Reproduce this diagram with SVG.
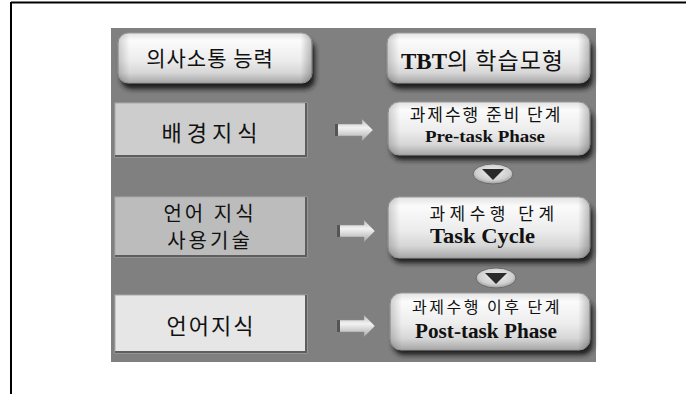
<svg xmlns="http://www.w3.org/2000/svg" width="686" height="394" viewBox="0 0 686 394">
<style>
.kr{font-family:"Noto Sans CJK KR","Noto Sans",sans-serif;fill:#111;text-anchor:middle}
.en{font-family:"Liberation Serif","Times New Roman",serif;font-weight:bold;fill:#111;text-anchor:middle}
.btn{fill:url(#gBtn);stroke:#9a9a9a;stroke-width:1}
.shadow{fill:#1a1a1a;filter:url(#blur)}
.lbox{stroke:#a8a8a8;stroke-width:1}
.edge{stroke:#5e5e5e;stroke-width:2;fill:none}
</style>
<defs>
<linearGradient id="gBtn" x1="0" y1="0" x2="0" y2="1">
<stop offset="0" stop-color="#e2e2e2"/>
<stop offset="0.15" stop-color="#fbfbfb"/>
<stop offset="0.55" stop-color="#ececec"/>
<stop offset="0.8" stop-color="#d6d6d6"/>
<stop offset="1" stop-color="#a6a6a6"/>
</linearGradient>
<linearGradient id="gSide" x1="0" y1="0" x2="1" y2="0">
<stop offset="0" stop-color="#000" stop-opacity="0.18"/>
<stop offset="0.06" stop-color="#000" stop-opacity="0"/>
<stop offset="0.94" stop-color="#000" stop-opacity="0"/>
<stop offset="1" stop-color="#000" stop-opacity="0.25"/>
</linearGradient>
<linearGradient id="gArrow" x1="0" y1="0" x2="0" y2="1">
<stop offset="0" stop-color="#bdbdbd"/>
<stop offset="0.4" stop-color="#f2f2f2"/>
<stop offset="1" stop-color="#a9a9a9"/>
</linearGradient>
<radialGradient id="gOval" cx="0.5" cy="0.4" r="0.6">
<stop offset="0" stop-color="#f0f0f0"/>
<stop offset="0.7" stop-color="#cfcfcf"/>
<stop offset="1" stop-color="#9a9a9a"/>
</radialGradient>
<filter id="blur" x="-10%" y="-20%" width="120%" height="150%"><feGaussianBlur stdDeviation="2.5"/></filter>
</defs>

<!-- frame -->
<line x1="11" y1="2.5" x2="686" y2="2.5" stroke="#000" stroke-width="2"/>
<line x1="11" y1="2" x2="11" y2="394" stroke="#000" stroke-width="2"/>

<!-- panel -->
<rect x="111" y="28" width="485" height="334" fill="#808080"/>

<g id="node-communication">
<rect class="shadow" x="121" y="40" width="194" height="49" rx="10"/>
<rect class="btn" x="118" y="33" width="194" height="50" rx="10"/>
<rect x="118" y="33" width="194" height="50" rx="10" fill="url(#gSide)"/>
<text class="kr" x="210" y="65.5" font-size="21" letter-spacing="1">의사소통 능력</text>
</g>

<g id="node-tbt">
<rect class="shadow" x="390" y="40" width="203" height="49" rx="10"/>
<rect class="btn" x="387" y="33" width="203" height="50" rx="10"/>
<rect x="387" y="33" width="203" height="50" rx="10" fill="url(#gSide)"/>
<text x="482.5" y="69" font-size="23" text-anchor="middle"><tspan class="en">TBT</tspan><tspan class="kr" letter-spacing="1">의 학습모형</tspan></text>
</g>

<g id="node-background">
<rect class="lbox" x="115" y="103" width="192" height="54" fill="#cdcdcd"/>
<polyline class="edge" points="306,103 306,156 115,156"/>
<text class="kr" x="212" y="141" font-size="22" letter-spacing="5">배경지식</text>
</g>

<g id="node-language-skill">
<rect class="lbox" x="115" y="197" width="192" height="60" fill="#bcbcbc"/>
<polyline class="edge" points="306,197 306,256 115,256"/>
<text class="kr" x="210" y="221" font-size="20" letter-spacing="3">언어 지식</text>
<text class="kr" x="210" y="248" font-size="20" letter-spacing="3">사용기술</text>
</g>

<g id="node-language-knowledge">
<rect class="lbox" x="115" y="295" width="192" height="58" fill="#e6e6e6"/>
<polyline class="edge" points="306,295 306,352 115,352"/>
<text class="kr" x="211" y="333.5" font-size="22" letter-spacing="2">언어지식</text>
</g>

<g id="node-pretask">
<rect class="shadow" x="391" y="109" width="202" height="51" rx="11"/>
<rect class="btn" x="388" y="102" width="202" height="53" rx="11"/>
<rect x="388" y="102" width="202" height="53" rx="11" fill="url(#gSide)"/>
<text class="kr" x="486" y="121" font-size="17" letter-spacing="2">과제수행 준비 단계</text>
<text class="en" x="485" y="142" font-size="16" textLength="120" lengthAdjust="spacingAndGlyphs">Pre-task Phase</text>
</g>

<g id="node-taskcycle">
<rect class="shadow" x="391" y="204" width="202" height="59" rx="11"/>
<rect class="btn" x="388" y="197" width="202" height="61" rx="11"/>
<rect x="388" y="197" width="202" height="61" rx="11" fill="url(#gSide)"/>
<text class="kr" x="494" y="220" font-size="17" letter-spacing="4.5">과제수행 단계</text>
<text class="en" x="482.5" y="243" font-size="20" textLength="105" lengthAdjust="spacingAndGlyphs">Task Cycle</text>
</g>

<g id="node-posttask">
<rect class="shadow" x="393" y="300" width="200" height="55" rx="11"/>
<rect class="btn" x="390" y="293" width="200" height="57" rx="11"/>
<rect x="390" y="293" width="200" height="57" rx="11" fill="url(#gSide)"/>
<text class="kr" x="487" y="313" font-size="16" letter-spacing="2.5">과제수행 이후 단계</text>
<text class="en" x="486" y="338" font-size="20" textLength="142" lengthAdjust="spacingAndGlyphs">Post-task Phase</text>
</g>

<g id="connectors">
<g fill="url(#gArrow)" stroke="#8a8a8a" stroke-width="0.5">
<path d="M335,124 H362 V119 L373,130 L362,141 V136 H335 Z"/>
<path d="M337,225 H364 V220 L375,231 L364,242 V237 H337 Z"/>
<path d="M337,320 H364 V315 L375,326 L364,337 V332 H337 Z"/>
</g>
<rect x="335" y="124" width="3" height="12" fill="#555"/>
<rect x="337" y="225" width="3" height="12" fill="#555"/>
<rect x="337" y="320" width="3" height="12" fill="#555"/>
<ellipse cx="493" cy="174" rx="20" ry="10" fill="url(#gOval)" stroke="#6a6a6a" stroke-width="1"/>
<path d="M482,169 H504 L493,180 Z" fill="#2a2a2a"/>
<ellipse cx="496" cy="278" rx="20" ry="10" fill="url(#gOval)" stroke="#6a6a6a" stroke-width="1"/>
<path d="M485,273 H507 L496,284 Z" fill="#2a2a2a"/>
</g>
</svg>
